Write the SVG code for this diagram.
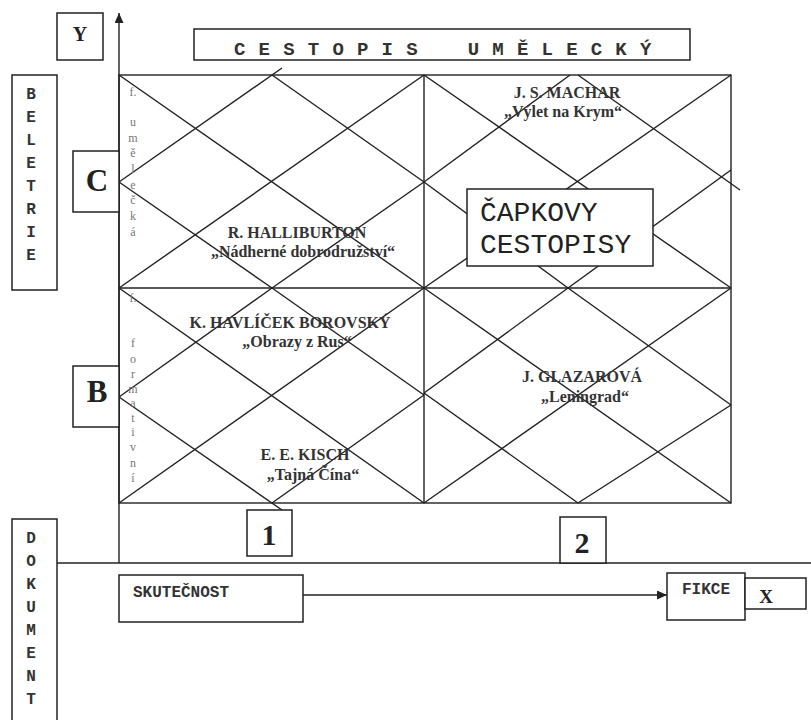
<svg xmlns="http://www.w3.org/2000/svg" width="811" height="720" viewBox="0 0 811 720">
<defs>
<marker id="ah" markerWidth="10" markerHeight="9" refX="10" refY="4.5" orient="auto" markerUnits="userSpaceOnUse"><path d="M0,0 L10,4.5 L0,9 z" fill="#222"/></marker>
<style>
.box{fill:#fff;stroke:#222;stroke-width:1.5}
.ln{stroke:#222;stroke-width:1.4;fill:none}
.mono{font-family:"Liberation Mono","DejaVu Sans Mono",monospace;font-weight:bold;fill:#333}
.big{font-family:"Liberation Serif","Times New Roman",serif;font-weight:bold;fill:#222;text-anchor:middle}
.auth{font-family:"Liberation Serif","Times New Roman",serif;font-weight:bold;font-size:16px;fill:#333;text-anchor:middle}
.vert{font-family:"Liberation Serif","Times New Roman",serif;font-size:12px;fill:#777;text-anchor:middle}
</style>
</defs>
<rect x="0" y="0" width="811" height="720" fill="#fff"/>

<g id="grid">
<rect x="119" y="75" width="612" height="428" class="ln" stroke-width="1.6"/>
<line x1="119" y1="288" x2="731" y2="288" class="ln" stroke-width="1.6"/>
<line x1="424" y1="75" x2="424" y2="503" class="ln" stroke-width="1.6"/>
</g>

<g id="connectors">
<!-- top-left cell -->
<line class="ln" x1="119" y1="75" x2="424" y2="288"/>
<line class="ln" x1="119" y1="288" x2="424" y2="75"/>
<line class="ln" x1="119" y1="182" x2="282" y2="68"/>
<line class="ln" x1="272" y1="75" x2="424" y2="182"/>
<line class="ln" x1="119" y1="182" x2="272" y2="288"/>
<line class="ln" x1="272" y1="288" x2="424" y2="182"/>
<!-- bottom-left cell -->
<line class="ln" x1="119" y1="288" x2="424" y2="503"/>
<line class="ln" x1="119" y1="503" x2="424" y2="288"/>
<line class="ln" x1="272" y1="288" x2="424" y2="395"/>
<line class="ln" x1="424" y1="395" x2="272" y2="503"/>
<line class="ln" x1="119" y1="397" x2="282" y2="510"/>
<line class="ln" x1="119" y1="397" x2="272" y2="288"/>
<!-- top-right cell -->
<line class="ln" x1="424" y1="75" x2="731" y2="288"/>
<line class="ln" x1="424" y1="288" x2="731" y2="75"/>
<line class="ln" x1="424" y1="182" x2="570" y2="75"/>
<line class="ln" x1="578" y1="75" x2="740" y2="190"/>
<line class="ln" x1="424" y1="182" x2="568" y2="288"/>
<line class="ln" x1="568" y1="288" x2="731" y2="170"/>
<!-- bottom-right cell -->
<line class="ln" x1="424" y1="288" x2="731" y2="503"/>
<line class="ln" x1="424" y1="503" x2="731" y2="288"/>
<line class="ln" x1="424" y1="393" x2="568" y2="288"/>
<line class="ln" x1="568" y1="288" x2="731" y2="405"/>
<line class="ln" x1="424" y1="393" x2="578" y2="503"/>
<line class="ln" x1="578" y1="503" x2="731" y2="405"/>
<!-- axes -->
<line class="ln" x1="119" y1="563" x2="119" y2="13" marker-end="url(#ah)"/>
<line class="ln" x1="57" y1="563" x2="811" y2="563"/>
<line class="ln" x1="303" y1="595" x2="667" y2="595" marker-end="url(#ah)"/>
</g>

<g id="labels">
<text class="auth" x="567" y="98">J. S. MACHAR</text>
<text class="auth" x="563" y="117">„Výlet na Krym“</text>
<text class="auth" x="297" y="238">R. HALLIBURTON</text>
<text class="auth" x="303" y="257">„Nádherné dobrodružství“</text>
<text class="auth" x="290" y="328">K. HAVLÍČEK BOROVSKÝ</text>
<text class="auth" x="297" y="347">„Obrazy z Rus“</text>
<text class="auth" x="582" y="382">J. GLAZAROVÁ</text>
<text class="auth" x="585" y="402">„Leningrad“</text>
<text class="auth" x="305" y="460">E. E. KISCH</text>
<text class="auth" x="313" y="480">„Tajná Čína“</text>
</g>

<g id="vertical-text">
<text class="vert"><tspan x="133" y="96">f.</tspan><tspan x="133" y="126">u</tspan><tspan x="133" y="142">m</tspan><tspan x="133" y="157">ě</tspan><tspan x="133" y="173">l</tspan><tspan x="133" y="189">e</tspan><tspan x="133" y="204">č</tspan><tspan x="133" y="220">k</tspan><tspan x="133" y="236">á</tspan></text>
<text class="vert"><tspan x="133" y="302">f.</tspan><tspan x="133" y="347">f</tspan><tspan x="133" y="363">o</tspan><tspan x="133" y="378">r</tspan><tspan x="133" y="393">m</tspan><tspan x="133" y="407">a</tspan><tspan x="133" y="422">t</tspan><tspan x="133" y="436">i</tspan><tspan x="133" y="451">v</tspan><tspan x="133" y="467">n</tspan><tspan x="133" y="482">í</tspan></text>
</g>

<g id="node-y">
<rect class="box" x="57" y="13" width="46" height="47"/>
<text class="big" x="80" y="41" font-size="20">Y</text>
</g>

<g id="node-title">
<rect class="box" x="194" y="29" width="496" height="31"/>
<text class="mono" x="234" y="55" font-size="19" letter-spacing="0.9" xml:space="preserve">C E S T O P I S    U M Ě L E C K Ý</text>
</g>

<g id="node-beletrie">
<rect class="box" x="12" y="75" width="45" height="215"/>
<text class="mono" font-size="16" text-anchor="middle"><tspan x="31" y="99">B</tspan><tspan x="31" y="122">E</tspan><tspan x="31" y="145">L</tspan><tspan x="31" y="168">E</tspan><tspan x="31" y="191">T</tspan><tspan x="31" y="214">R</tspan><tspan x="31" y="237">I</tspan><tspan x="31" y="260">E</tspan></text>
</g>

<g id="node-dokument">
<rect class="box" x="12" y="519" width="45" height="210"/>
<text class="mono" font-size="16" text-anchor="middle"><tspan x="31" y="543">D</tspan><tspan x="31" y="566">O</tspan><tspan x="31" y="589">K</tspan><tspan x="31" y="612">U</tspan><tspan x="31" y="635">M</tspan><tspan x="31" y="658">E</tspan><tspan x="31" y="681">N</tspan><tspan x="31" y="704">T</tspan></text>
</g>

<g id="node-c">
<rect class="box" x="73" y="151" width="46" height="61"/>
<text class="big" x="97" y="191" font-size="31">C</text>
</g>

<g id="node-b">
<rect class="box" x="73" y="366" width="46" height="61"/>
<text class="big" x="97" y="402" font-size="31">B</text>
</g>

<g id="node-1">
<rect class="box" x="247" y="510" width="45" height="46"/>
<text class="big" x="269" y="545" font-size="30">1</text>
</g>

<g id="node-2">
<rect class="box" x="560" y="517" width="46" height="46"/>
<text class="big" x="582" y="553" font-size="30">2</text>
</g>

<g id="node-capek">
<rect class="box" x="467" y="189" width="186" height="77"/>
<text x="480" y="221" font-family="Liberation Mono, DejaVu Sans Mono, monospace" font-size="28" fill="#222">ČAPKOVY</text>
<text x="480" y="253" font-family="Liberation Mono, DejaVu Sans Mono, monospace" font-size="28" fill="#222">CESTOPISY</text>
</g>

<g id="node-skutecnost">
<rect class="box" x="119" y="575" width="184" height="47"/>
<text class="mono" x="133" y="597" font-size="16">SKUTEČNOST</text>
</g>

<g id="node-fikce">
<rect class="box" x="667" y="573" width="78" height="47"/>
<text class="mono" x="682" y="594" font-size="16">FIKCE</text>
</g>

<g id="node-x">
<rect class="box" x="745" y="578" width="61" height="31"/>
<text class="big" x="766" y="603" font-size="19">X</text>
</g>
</svg>
